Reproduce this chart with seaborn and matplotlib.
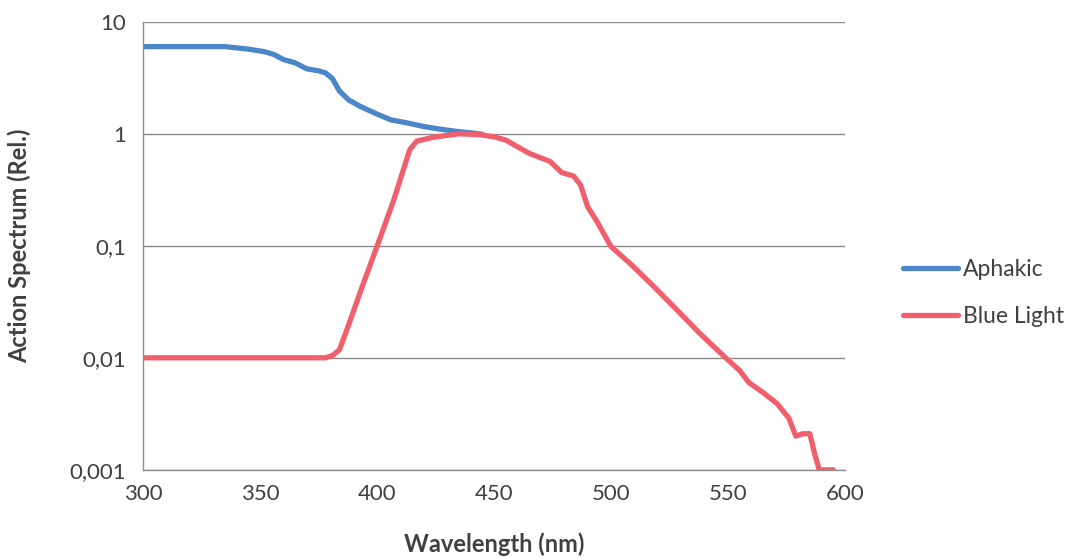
import numpy as np
import pandas as pd
import matplotlib
matplotlib.use('Agg')
import matplotlib.pyplot as plt
import seaborn as sns
from matplotlib.ticker import FixedLocator, FixedFormatter, NullLocator

# Werte
aphakic_nm = [300, 310, 320, 335, 345, 352, 356, 360, 365, 370, 375, 378, 381, 384, 388,
              393, 400, 406, 413, 420, 427, 434, 440, 445]
aphakic_val = [6.0, 6.0, 6.0, 6.0, 5.7, 5.4, 5.1, 4.6, 4.3, 3.8, 3.65, 3.5, 3.1, 2.4,
               2.0, 1.75, 1.5, 1.33, 1.25, 1.16, 1.1, 1.05, 1.02, 0.99]

blue_nm = [300, 320, 340, 360, 378, 381, 384, 388, 394, 400, 407, 414, 417, 424, 435,
           444, 450, 455, 465, 474, 479, 484, 487, 490, 494, 500, 508, 518, 528, 538,
           549, 555, 559, 565, 571, 576, 579, 582, 585, 587, 589, 592, 595]
blue_val = [0.01, 0.01, 0.01, 0.01, 0.01, 0.0105, 0.0118, 0.02, 0.045, 0.0986, 0.25,
            0.72, 0.86, 0.93, 1.0, 0.98, 0.94, 0.88, 0.67, 0.566, 0.45, 0.42, 0.35,
            0.224, 0.165, 0.0986, 0.07, 0.044, 0.027, 0.0165, 0.01, 0.0077, 0.006,
            0.0049, 0.0039, 0.0029, 0.002, 0.0021, 0.0021, 0.0014, 0.001, 0.001, 0.001]

series_names = ['Aphakic', 'Blue Light']
series_colors = ['#4a86c8', '#ef5f6c']

y_ticks = [0.001, 0.01, 0.1, 1, 10]
y_tick_labels = ['0,001', '0,01', '0,1', '1', '10']
x_ticks = [300, 350, 400, 450, 500, 550, 600]

df = pd.concat([
    pd.DataFrame({'nm': aphakic_nm, 'val': aphakic_val, 'serie': series_names[0]}),
    pd.DataFrame({'nm': blue_nm, 'val': blue_val, 'serie': series_names[1]}),
], ignore_index=True)

sns.set_style('white')
plt.rcParams['font.family'] = ['Lato', 'DejaVu Sans']

fig = plt.figure(figsize=(10.75, 5.58), dpi=100)
ax = fig.add_axes([0.133, 0.158, 0.653, 0.803])

sns.lineplot(data=df, x='nm', y='val', hue='serie', palette=series_colors,
             hue_order=series_names, linewidth=3.8, ax=ax, estimator=None,
             sort=False, solid_capstyle='round', solid_joinstyle='round')

ax.set_yscale('log')
ax.set_ylim(0.001, 10)
ax.set_xlim(300, 600)
ax.yaxis.set_major_locator(FixedLocator(y_ticks))
ax.yaxis.set_major_formatter(FixedFormatter(y_tick_labels))
ax.yaxis.set_minor_locator(NullLocator())
ax.set_xticks(x_ticks)
ax.set_xticklabels([str(v) for v in x_ticks])

ax.grid(axis='y', color='#8c8c8c', linewidth=1.0)
ax.grid(axis='x', visible=False)
ax.set_axisbelow(True)

for side in ['top', 'right']:
    ax.spines[side].set_visible(False)
for side in ['left', 'bottom']:
    ax.spines[side].set_color('#8c8c8c')
    ax.spines[side].set_linewidth(1.0)

ax.tick_params(axis='y', which='major', direction='out', length=6, width=1.0,
               color='#8c8c8c', labelsize=16, labelcolor='#404040', pad=6)
ax.tick_params(axis='x', which='major', direction='out', length=5, width=1.0,
               color='#8c8c8c', labelsize=16, labelcolor='#404040', pad=5)

ax.set_xlabel('Wavelength (nm)', fontsize=17, fontweight='bold', color='#404040')
ax.set_ylabel('Action Spectrum (Rel.)', fontsize=17, fontweight='bold', color='#404040')
ax.xaxis.set_label_coords(0.5, -0.14)
ax.yaxis.set_label_coords(-0.16, 0.5)

leg = ax.legend(loc='center left', bbox_to_anchor=(1.083, 0.395), frameon=False,
                fontsize=16.5, handlelength=2.4, handletextpad=0.2, labelspacing=1.15,
                borderpad=0, borderaxespad=0, title=None)
for t in leg.get_texts():
    t.set_color('#404040')

fig.savefig('out.png', dpi=100)
